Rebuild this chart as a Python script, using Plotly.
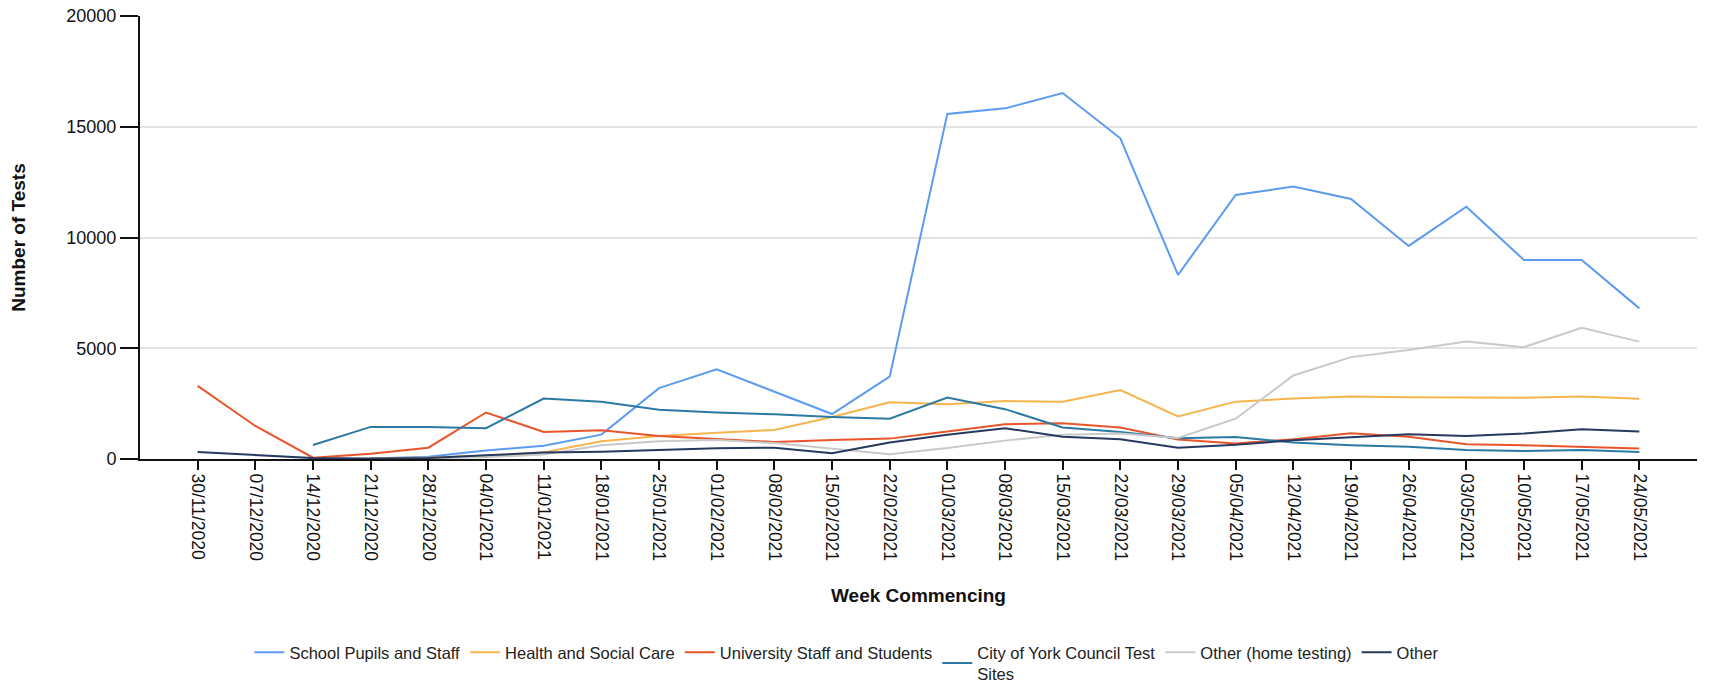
import plotly.graph_objects as go

weeks = ["30/11/2020", "07/12/2020", "14/12/2020", "21/12/2020", "28/12/2020",
         "04/01/2021", "11/01/2021", "18/01/2021", "25/01/2021", "01/02/2021",
         "08/02/2021", "15/02/2021", "22/02/2021", "01/03/2021", "08/03/2021",
         "15/03/2021", "22/03/2021", "29/03/2021", "05/04/2021", "12/04/2021",
         "19/04/2021", "26/04/2021", "03/05/2021", "10/05/2021", "17/05/2021",
         "24/05/2021"]

school = [None, None, None, 20, 100, 380, 600, 1100, 3200, 4050, 3050, 2030, 3720,
          15580, 15830, 16520, 14480, 8310, 11920, 12300, 11740, 9620, 11390, 8980,
          8980, 6800]
health = [None, None, None, 20, 60, 150, 300, 800, 1040, 1190, 1310, 1900, 2560,
          2470, 2620, 2580, 3110, 1920, 2590, 2730, 2820, 2790, 2780, 2770, 2820, 2720]
university = [3300, 1490, 60, 240, 510, 2100, 1220, 1300, 1040, 920, 770, 860, 920,
              1240, 1570, 1610, 1420, 880, 700, 890, 1160, 1000, 670, 620, 540, 470]
council = [None, None, 630, 1450, 1450, 1390, 2730, 2580, 2220, 2100, 2020, 1900,
           1820, 2770, 2250, 1420, 1220, 940, 990, 740, 620, 550, 410, 360, 410, 320]
home = [None, None, None, None, 30, 80, 200, 620, 800, 860, 720, 480, 210, 500, 830,
        1100, 1150, 950, 1820, 3770, 4600, 4920, 5300, 5050, 5920, 5300]
other = [320, 180, 40, 20, 50, 170, 290, 330, 410, 480, 510, 260, 740, 1090, 1390,
         1000, 890, 510, 640, 850, 980, 1120, 1040, 1150, 1340, 1240]

series = [
    ("School Pupils and Staff", school, "#5b9bf0"),
    ("Health and Social Care", health, "#f6b44c"),
    ("University Staff and Students", university, "#e8552b"),
    ("City of York Council Test<br>Sites", council, "#2b7aa3"),
    ("Other (home testing)", home, "#c9c9c9"),
    ("Other", other, "#27395f"),
]

fig = go.Figure()
for name, vals, color in series:
    fig.add_trace(go.Scatter(x=weeks, y=vals, name=name, mode="lines",
                             line=dict(color=color, width=2),
                             connectgaps=False))

# the page body adds an 8px offset, so the figure is 8px smaller than the window
fig.update_layout(
    width=1705, height=675,
    paper_bgcolor="white", plot_bgcolor="white",
    margin=dict(l=132, r=16, t=8, b=224),
    font=dict(family="Liberation Sans, Arial, sans-serif", size=16, color="#111"),
    legend=dict(orientation="h", x=0.454, xanchor="center", xref="paper",
                y=0.071, yanchor="top", yref="container",
                font=dict(size=16.5, color="#222"), traceorder="normal"),
    showlegend=True,
)

fig.update_xaxes(
    type="category", range=[-1, 26], tickangle=90, automargin=False,
    showline=True, linecolor="#111", linewidth=2,
    ticks="outside", ticklen=9, tickwidth=1.5, tickcolor="#111",
    showgrid=False, zeroline=False,
    tickfont=dict(size=17.5, color="#111"),
    title=dict(text="<b>Week Commencing</b>", font=dict(size=19, color="#111"), standoff=28),
)
fig.update_yaxes(
    range=[0, 20000], tickvals=[0, 5000, 10000, 15000, 20000],
    tickformat="d", automargin=False, ticklabeloverflow="allow",
    showline=True, linecolor="#111", linewidth=2,
    ticks="outside", ticklen=18, tickwidth=1.5, tickcolor="#111",
    showgrid=True, gridcolor="#e3e3e3", gridwidth=1.5, zeroline=False,
    tickfont=dict(size=18, color="#111"),
    title=dict(text="<b>Number of Tests</b>", font=dict(size=19, color="#111"), standoff=43),
)

fig.write_html("out.html")
